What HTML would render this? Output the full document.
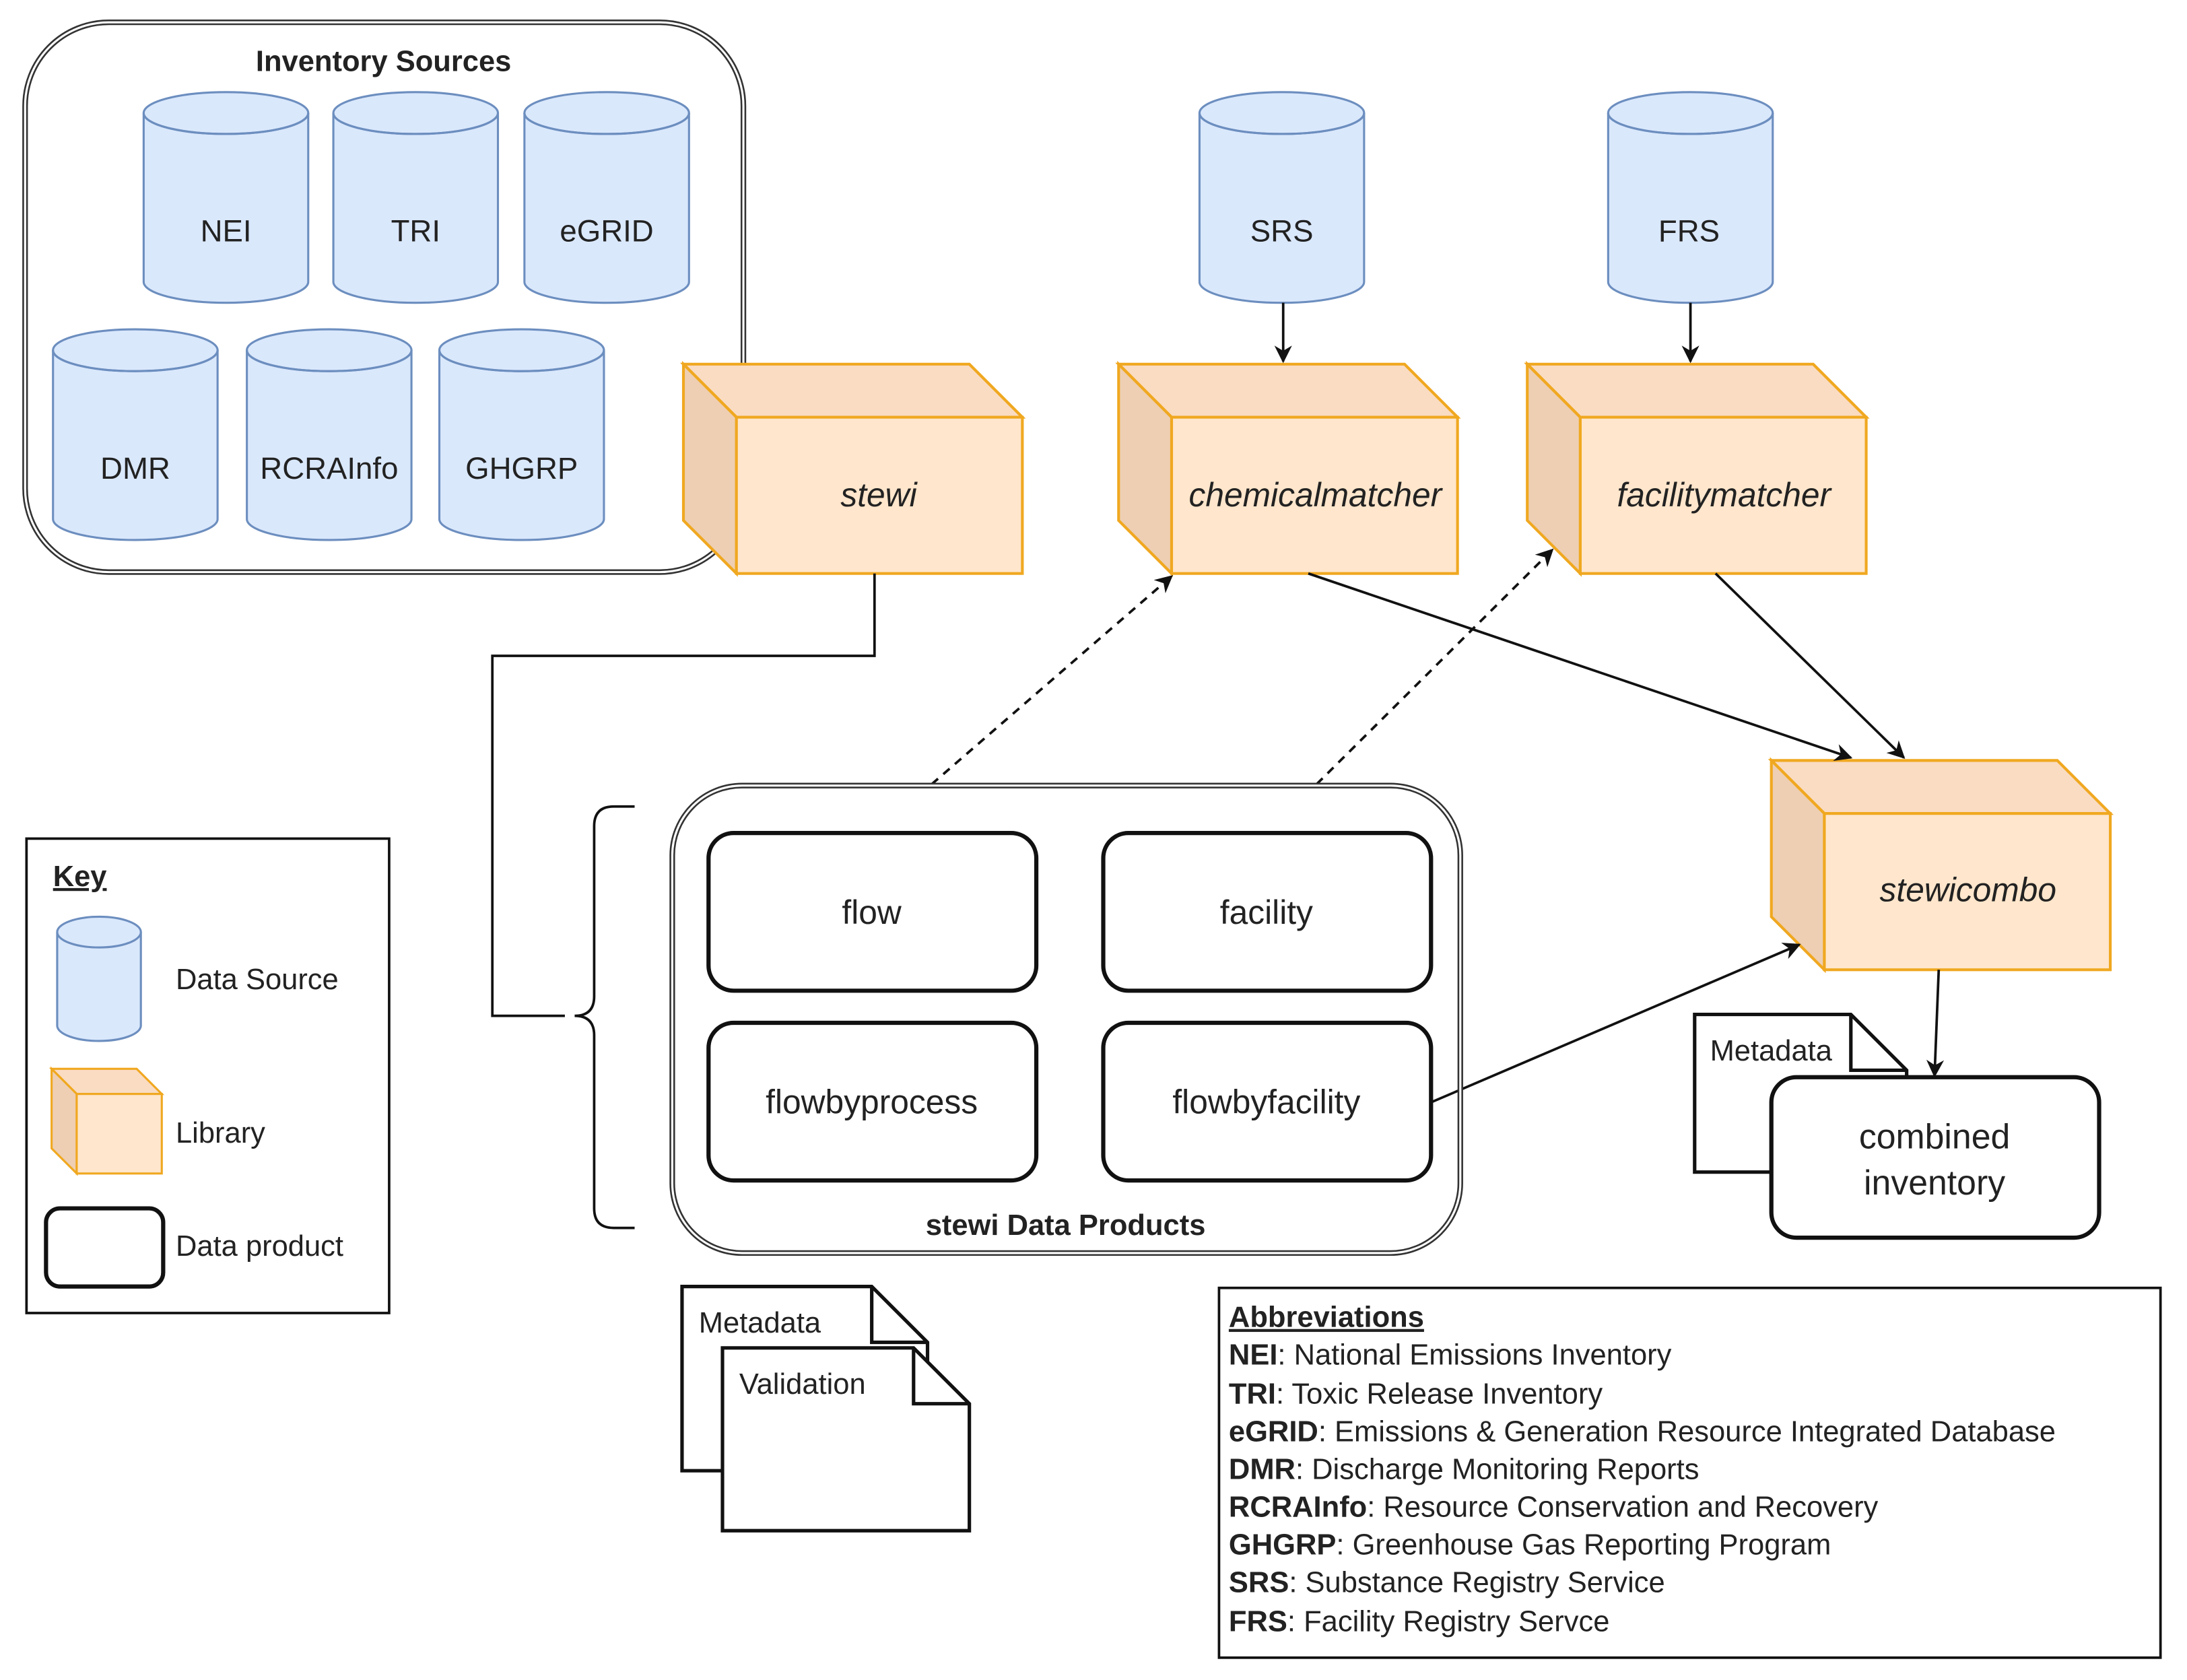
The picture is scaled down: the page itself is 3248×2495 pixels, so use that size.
<!DOCTYPE html>
<html><head><meta charset="utf-8"><style>html,body{margin:0;padding:0;background:#fff}svg{display:block}text{font-family:"Liberation Sans",sans-serif;fill:#222}</style></head><body>
<svg width="3248" height="2495" viewBox="0 0 1568 1204" preserveAspectRatio="none" xmlns="http://www.w3.org/2000/svg">
<defs>
<marker id="ar" viewBox="0 0 10 10" refX="9" refY="5" markerWidth="7" markerHeight="7" orient="auto"><path d="M0,0 L10,5 L0,10 L3,5 z" fill="#111"/></marker>
<g id="cyl"><path d="M0,15 L0,136 A59,15 0 0 0 118,136 L118,15" fill="#dae8fc" stroke="#6c8ebf" stroke-width="1.5"/><ellipse cx="59" cy="15" rx="59" ry="15" fill="#dae8fc" stroke="#6c8ebf" stroke-width="1.5"/><path d="M0,15 A59,15 0 0 0 118,15" fill="none" stroke="#6c8ebf" stroke-width="1.5"/></g>
<g id="cube"><polygon points="0,0 205,0 243,38 38,38" fill="#fadcc3" stroke="#f0a820" stroke-width="2"/><polygon points="0,0 38,38 38,150 0,112" fill="#eecfb3" stroke="#f0a820" stroke-width="2"/><rect x="38" y="38" width="205" height="112" fill="#ffe6cc" stroke="#f0a820" stroke-width="2"/></g>
</defs>
<rect x="18" y="16" width="515" height="394" rx="60" fill="none" stroke="#333" stroke-width="4"/>
<rect x="18" y="16" width="515" height="394" rx="60" fill="none" stroke="#fff" stroke-width="1.5"/>
<text x="275" y="51" font-size="21" font-weight="bold" text-anchor="middle">Inventory Sources</text>
<use href="#cyl" x="103" y="66"/><use href="#cyl" x="239" y="66"/><use href="#cyl" x="376" y="66"/>
<use href="#cyl" x="38" y="236"/><use href="#cyl" x="177" y="236"/><use href="#cyl" x="315" y="236"/>
<use href="#cyl" x="860" y="66"/><use href="#cyl" x="1153" y="66"/>
<g font-size="22" text-anchor="middle"><text x="162" y="173">NEI</text><text x="298" y="173">TRI</text><text x="435" y="173">eGRID</text>
<text x="97" y="343">DMR</text><text x="236" y="343">RCRAInfo</text><text x="374" y="343">GHGRP</text>
<text x="919" y="173">SRS</text><text x="1211" y="173">FRS</text></g>
<use href="#cube" x="490" y="261"/><use href="#cube" x="802" y="261"/><use href="#cube" x="1095" y="261"/><use href="#cube" x="1270" y="545"/>
<g font-size="24" font-style="italic" text-anchor="middle"><text x="630" y="363">stewi</text><text x="943" y="363">chemicalmatcher</text><text x="1236" y="363">facilitymatcher</text><text x="1411" y="646">stewicombo</text></g>
<g stroke="#111" stroke-width="1.8" fill="none">
<line x1="920" y1="217" x2="920" y2="259" marker-end="url(#ar)"/>
<line x1="1212" y1="217" x2="1212" y2="259" marker-end="url(#ar)"/>
<line x1="938" y1="411" x2="1327" y2="543" marker-end="url(#ar)"/>
<line x1="1230" y1="411" x2="1365" y2="543" marker-end="url(#ar)"/>
<line x1="1026" y1="790" x2="1290" y2="677" marker-end="url(#ar)"/>
<line x1="1390" y1="695" x2="1387" y2="771" marker-end="url(#ar)"/>
<line x1="668" y1="562" x2="840" y2="413" stroke-dasharray="6,5" marker-end="url(#ar)"/>
<line x1="944" y1="562" x2="1113" y2="394" stroke-dasharray="6,5" marker-end="url(#ar)"/>
<polyline points="627,411 627,470 353,470 353,728 405,728"/>
<path d="M455,578 L440,578 Q426,578 426,592 L426,714 Q426,728 412,728 Q426,728 426,742 L426,866 Q426,880 440,880 L455,880"/>
</g>
<rect x="482" y="563" width="565" height="335" rx="50" fill="none" stroke="#333" stroke-width="4"/>
<rect x="482" y="563" width="565" height="335" rx="50" fill="none" stroke="#fff" stroke-width="1.5"/>
<g fill="#fff" stroke="#111" stroke-width="3"><rect x="508" y="597" width="235" height="113" rx="18"/><rect x="791" y="597" width="235" height="113" rx="18"/><rect x="508" y="733" width="235" height="113" rx="18"/><rect x="791" y="733" width="235" height="113" rx="18"/></g>
<g font-size="24" text-anchor="middle"><text x="625" y="662">flow</text><text x="908" y="662">facility</text><text x="625" y="798">flowbyprocess</text><text x="908" y="798">flowbyfacility</text></g>
<text x="764" y="885" font-size="21" font-weight="bold" text-anchor="middle">stewi Data Products</text>
<path d="M1215,727 L1327,727 L1367,767 L1367,840 L1215,840 Z" fill="#fff" stroke="#111" stroke-width="2.5"/>
<path d="M1327,727 L1327,767 L1367,767" fill="none" stroke="#111" stroke-width="2.5"/>
<text x="1226" y="760" font-size="21">Metadata</text>
<rect x="1270" y="772" width="235" height="115" rx="18" fill="#fff" stroke="#111" stroke-width="3"/>
<g font-size="25" text-anchor="middle"><text x="1387" y="823">combined</text><text x="1387" y="856">inventory</text></g>
<path d="M489,922 L625,922 L665,962 L665,1054 L489,1054 Z" fill="#fff" stroke="#111" stroke-width="2.5"/>
<path d="M625,922 L625,962 L665,962" fill="none" stroke="#111" stroke-width="2.5"/>
<text x="501" y="955" font-size="21">Metadata</text>
<path d="M518,966 L655,966 L695,1006 L695,1097 L518,1097 Z" fill="#fff" stroke="#111" stroke-width="2.5"/>
<path d="M655,966 L655,1006 L695,1006" fill="none" stroke="#111" stroke-width="2.5"/>
<text x="530" y="999" font-size="21">Validation</text>
<rect x="19" y="601" width="260" height="340" fill="#fff" stroke="#111" stroke-width="1.8"/>
<text x="38" y="635" font-size="21" font-weight="bold" text-decoration="underline">Key</text>
<path d="M41,668 L41,735 A30,11 0 0 0 101,735 L101,668" fill="#dae8fc" stroke="#6c8ebf" stroke-width="1.5"/>
<ellipse cx="71" cy="668" rx="30" ry="11" fill="#dae8fc" stroke="#6c8ebf" stroke-width="1.5"/>
<polygon points="37,766 98,766 116,784 55,784" fill="#fadcc3" stroke="#f0a820" stroke-width="1.5"/>
<polygon points="37,766 55,784 55,841 37,823" fill="#eecfb3" stroke="#f0a820" stroke-width="1.5"/>
<rect x="55" y="784" width="61" height="57" fill="#ffe6cc" stroke="#f0a820" stroke-width="1.5"/>
<rect x="33" y="866" width="84" height="56" rx="10" fill="#fff" stroke="#111" stroke-width="3"/>
<g font-size="21"><text x="126" y="709">Data Source</text><text x="126" y="819">Library</text><text x="126" y="900">Data product</text></g>
<rect x="874" y="923" width="675" height="265" fill="#fff" stroke="#111" stroke-width="1.8"/>
<g font-size="21">
<text x="881" y="951" font-weight="bold" text-decoration="underline">Abbreviations</text>
<text x="881" y="978"><tspan font-weight="bold">NEI</tspan>: National Emissions Inventory</text>
<text x="881" y="1006"><tspan font-weight="bold">TRI</tspan>: Toxic Release Inventory</text>
<text x="881" y="1033"><tspan font-weight="bold">eGRID</tspan>: Emissions &amp; Generation Resource Integrated Database</text>
<text x="881" y="1060"><tspan font-weight="bold">DMR</tspan>: Discharge Monitoring Reports</text>
<text x="881" y="1087"><tspan font-weight="bold">RCRAInfo</tspan>: Resource Conservation and Recovery</text>
<text x="881" y="1114"><tspan font-weight="bold">GHGRP</tspan>: Greenhouse Gas Reporting Program</text>
<text x="881" y="1141"><tspan font-weight="bold">SRS</tspan>: Substance Registry Service</text>
<text x="881" y="1169"><tspan font-weight="bold">FRS</tspan>: Facility Registry Servce</text>
</g>
</svg>
</body></html>
